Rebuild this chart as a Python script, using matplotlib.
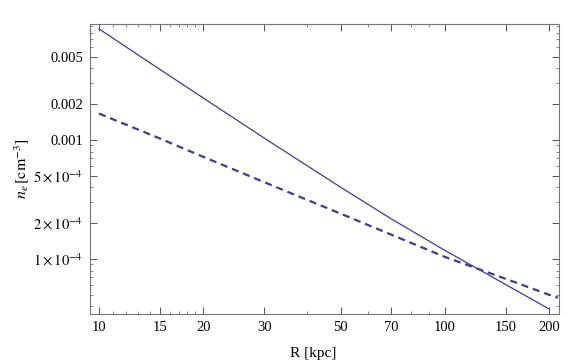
# -*- coding: utf-8 -*-
import numpy as np
import matplotlib
matplotlib.use("Agg")
import matplotlib.pyplot as plt
from matplotlib.ticker import FixedLocator, FixedFormatter, NullFormatter

plt.rcParams['font.family'] = ['Liberation Serif', 'DejaVu Serif']
plt.rcParams['mathtext.fontset'] = 'stix'

# data
R = [10, 15, 20, 30, 50, 70, 100, 150, 200]
ne_solid = [8.6e-3, 3.92e-3, 2.26e-3, 1.04e-3, 4.0e-4, 2.17e-4, 1.18e-4, 6.08e-5, 3.8e-5]
R_dashed = [10, 15, 20, 30, 50, 70, 100, 150, 200, 212]
ne_dashed = [1.67e-3, 1.03e-3, 7.23e-4, 4.43e-4, 2.4e-4, 1.6e-4, 1.04e-4, 6.8e-5, 5.0e-5, 4.73e-5]

x_ticks = [10, 15, 20, 30, 50, 70, 100, 150, 200]
x_labels = ["10", "15", "20", "30", "50", "70", "100", "150", "200"]
y_ticks = [1e-4, 2e-4, 5e-4, 1e-3, 2e-3, 5e-3]
y_labels = [r"$1\times10^{-4}$", r"$2\times10^{-4}$", r"$5\times10^{-4}$",
            "0.001", "0.002", "0.005"]

color = "#3d3d99"

fig = plt.figure(figsize=(5.67, 3.64), dpi=100)
ax = fig.add_axes([0.1587, 0.1374, 0.8272, 0.7966])

ax.plot(R, ne_solid, color=color, lw=0.9)
ax.plot(R_dashed, ne_dashed, color=color, lw=1.6, dashes=(3.2, 2.2))

ax.set_xscale("log")
ax.set_yscale("log")
ax.set_xlim(9.42, 213.5)
ax.set_ylim(3.45e-5, 9.44e-3)

# ticks
ax.xaxis.set_major_locator(FixedLocator(x_ticks))
ax.xaxis.set_major_formatter(FixedFormatter(x_labels))
x_minor = [m * 10**d for d in (1, 2) for m in range(1, 10)]
x_minor += [11, 12, 13, 14, 16, 17, 18, 19]
x_minor = [v for v in x_minor if v not in x_ticks]
ax.xaxis.set_minor_locator(FixedLocator(x_minor))
ax.xaxis.set_minor_formatter(NullFormatter())

ax.yaxis.set_major_locator(FixedLocator(y_ticks))
ax.yaxis.set_major_formatter(FixedFormatter(y_labels))
y_minor = [m * 10.0**d for d in (-5, -4, -3) for m in range(1, 10)]
y_minor = [v for v in y_minor if not any(abs(v - t) < 1e-12 for t in y_ticks)]
ax.yaxis.set_minor_locator(FixedLocator(y_minor))
ax.yaxis.set_minor_formatter(NullFormatter())

ax.tick_params(which="both", direction="in", top=True, right=True,
               color="#555555", labelsize=10.5, labelcolor="black")
ax.tick_params(which="major", length=5, width=0.7, pad=5)
ax.tick_params(which="minor", length=2.5, width=0.5)

for s in ax.spines.values():
    s.set_color("#777777")
    s.set_linewidth(0.8)

ax.set_xlabel("R [kpc]", fontsize=11)
ax.xaxis.set_label_coords(0.475, -0.115)
ax.set_ylabel(r"$n_e\,[\mathrm{cm}^{-3}]$", fontsize=11.5, labelpad=2)

fig.savefig("out.png", dpi=100)
